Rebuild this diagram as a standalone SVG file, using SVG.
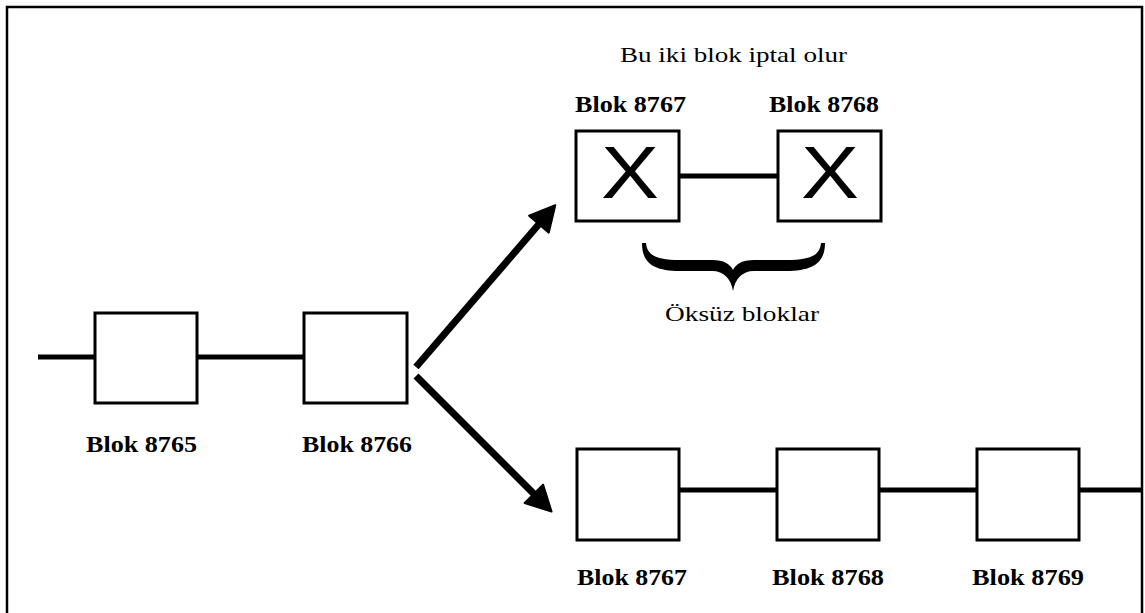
<svg xmlns="http://www.w3.org/2000/svg" width="1145" height="613" viewBox="0 0 1145 613">
  <style>
    .blk { fill: #fff; stroke: #000; stroke-width: 3; }
    .link { stroke: #000; stroke-width: 5; fill: none; }
    .arrow { stroke: #000; stroke-width: 7; fill: none; }
    .lbl { font-family: "Liberation Serif", "Times New Roman", serif; font-weight: bold; font-size: 23px; fill: #000; }
    .note { font-family: "Liberation Serif", "Times New Roman", serif; font-size: 22px; fill: #000; }
    .cross { font-family: "Liberation Sans", Arial, sans-serif; font-size: 74px; fill: #000; }
  </style>
  <defs>
    <marker id="head" markerWidth="30" markerHeight="30" refX="20" refY="13" orient="auto" markerUnits="userSpaceOnUse" viewBox="-2 -2 30 30" overflow="visible">
      <path d="M0,0 L25,13 L0,26 Z" fill="#000" stroke="#000" stroke-width="2" stroke-linejoin="round"/>
    </marker>
  </defs>

  <rect width="1145" height="613" fill="#fff"/>
  <!-- outer frame (open at the bottom) -->
  <path d="M7,613 L7,7 L1142,7 L1142,613" fill="none" stroke="#000" stroke-width="2.5"/>

  <!-- connectors -->
  <g id="connectors">
    <line class="link" x1="38" y1="357" x2="94" y2="357"/>
    <line class="link" x1="197" y1="357" x2="303" y2="357"/>
    <line class="link" x1="679" y1="176" x2="777" y2="176"/>
    <line class="link" x1="679" y1="490" x2="777" y2="490"/>
    <line class="link" x1="880" y1="490" x2="978" y2="490"/>
    <line class="link" x1="1080" y1="490" x2="1142" y2="490"/>
    <line class="arrow" x1="416" y1="367" x2="552" y2="209" marker-end="url(#head)"/>
    <line class="arrow" x1="416" y1="376" x2="548" y2="508" marker-end="url(#head)"/>
  </g>

  <!-- main chain -->
  <g id="blok-8765">
    <rect class="blk" x="95" y="313" width="102" height="90"/>
    <text class="lbl" x="86" y="452" textLength="111" lengthAdjust="spacingAndGlyphs">Blok 8765</text>
  </g>
  <g id="blok-8766">
    <rect class="blk" x="304" y="313" width="103" height="90"/>
    <text class="lbl" x="302" y="452" textLength="110" lengthAdjust="spacingAndGlyphs">Blok 8766</text>
  </g>

  <!-- orphaned branch -->
  <text class="note" x="620" y="62" textLength="227" lengthAdjust="spacingAndGlyphs">Bu iki blok iptal olur</text>
  <g id="orphan-8767">
    <rect class="blk" x="576" y="131" width="103" height="90"/>
    <text class="cross" x="601" y="198" textLength="58" lengthAdjust="spacingAndGlyphs">X</text>
    <text class="lbl" x="575" y="112" textLength="111" lengthAdjust="spacingAndGlyphs">Blok 8767</text>
  </g>
  <g id="orphan-8768">
    <rect class="blk" x="778" y="131" width="103" height="90"/>
    <text class="cross" x="801" y="198" textLength="58" lengthAdjust="spacingAndGlyphs">X</text>
    <text class="lbl" x="769" y="112" textLength="110" lengthAdjust="spacingAndGlyphs">Blok 8768</text>
  </g>
  <g id="orphan-brace">
    <path d="M642,243 C642,262 652,271 680,271 L712,271 C724,271 731,279 733,291 C735,279 742,271 754,271 L786,271 C814,271 825,262 825,243 L821,243 C820,255 811,260 786,260 L754,260 C742,260 736,264 733,270 C730,264 724,260 712,260 L680,260 C656,260 647,255 646,243 Z" fill="#000"/>
    <text class="note" x="665" y="321" textLength="154" lengthAdjust="spacingAndGlyphs">Öksüz bloklar</text>
  </g>

  <!-- accepted branch -->
  <g id="blok-8767">
    <rect class="blk" x="577" y="449" width="102" height="91"/>
    <text class="lbl" x="577" y="585" textLength="110" lengthAdjust="spacingAndGlyphs">Blok 8767</text>
  </g>
  <g id="blok-8768">
    <rect class="blk" x="777" y="449" width="102" height="91"/>
    <text class="lbl" x="772" y="585" textLength="112" lengthAdjust="spacingAndGlyphs">Blok 8768</text>
  </g>
  <g id="blok-8769">
    <rect class="blk" x="977" y="449" width="102" height="91"/>
    <text class="lbl" x="972" y="585" textLength="112" lengthAdjust="spacingAndGlyphs">Blok 8769</text>
  </g>
</svg>
